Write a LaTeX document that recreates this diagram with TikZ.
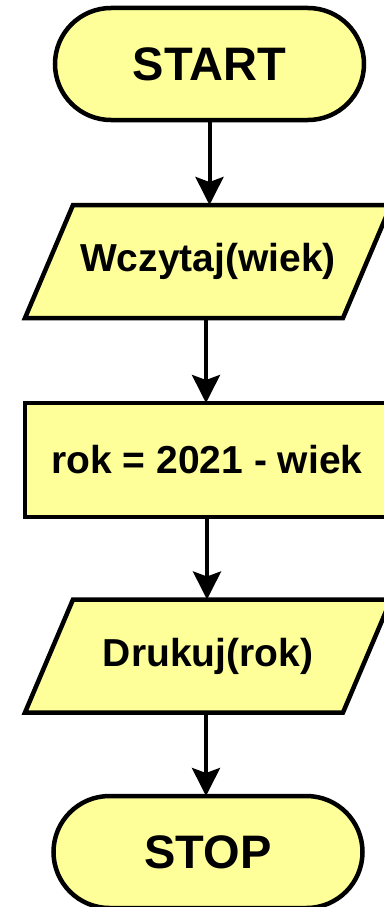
\documentclass[tikz,border=0pt]{standalone}
\usepackage{fontspec}
\setmainfont{Liberation Sans}
\usetikzlibrary{shapes.misc,arrows.meta,backgrounds}
\definecolor{boxfill}{RGB}{255,255,153}
\begin{document}
\begin{tikzpicture}[x=1pt,y=1pt,
  outline/.style={draw=black, line width=4.5pt, fill=boxfill},
  base/.style={outline, inner sep=0pt, outer sep=0pt,
    font=\bfseries\fontsize{39}{44}\selectfont, text=black},
  term/.style={base, rounded rectangle, minimum width=309pt, minimum height=112pt,
    font=\bfseries\fontsize{47}{52}\selectfont},
  io/.style={rectangle, inner sep=0pt, outer sep=0pt, minimum width=318pt, minimum height=113pt,
    font=\bfseries\fontsize{39}{44}\selectfont, text=black},
  proc/.style={base, rectangle, minimum width=364pt, minimum height=114pt},
  flow/.style={line width=4pt, -{Stealth[width=28pt,length=28pt,inset=5pt]}}]
\useasboundingbox (0,0) rectangle (383,-907);
\node[term] (start) at (209.5,-64) {START};
\node[io] (in) at (208,-261.5) {Wczytaj(wiek)};
\node[proc] (calc) at (207,-460) {rok = 2021 - wiek};
\node[io] (out) at (208,-656) {Drukuj(rok)};
\node[term] (stop) at (208,-852) {STOP};
\begin{scope}[on background layer]
  \draw[outline] ([xshift=24pt]in.north west) -- ([xshift=24pt]in.north east)
    -- ([xshift=-24pt]in.south east) -- ([xshift=-24pt]in.south west) -- cycle;
  \draw[outline] ([xshift=24pt]out.north west) -- ([xshift=24pt]out.north east)
    -- ([xshift=-24pt]out.south east) -- ([xshift=-24pt]out.south west) -- cycle;
\end{scope}
\draw[flow] (start.south) -- (start.south |- in.north);
\draw[flow] ([xshift=-2pt]in.south) -- ([xshift=-2pt]in.south |- calc.north);
\draw[flow] (calc.south) -- (calc.south |- out.north);
\draw[flow] ([xshift=-2pt]out.south) -- ([xshift=-2pt]out.south |- stop.north);
\end{tikzpicture}
\end{document}
